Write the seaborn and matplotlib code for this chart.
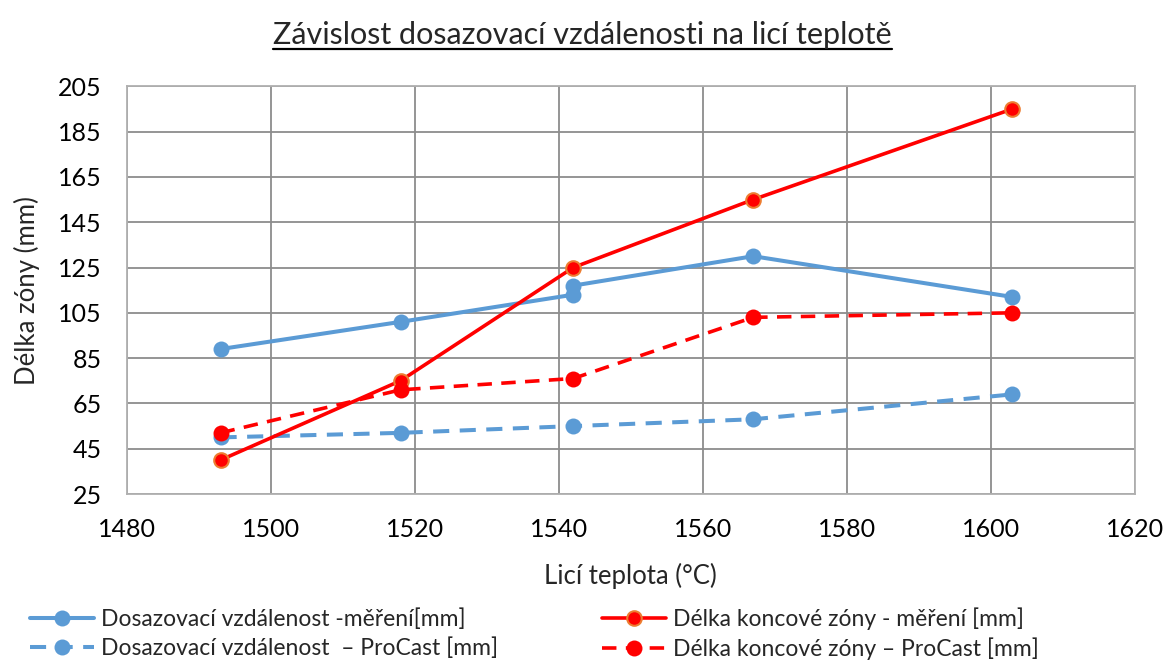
import matplotlib
matplotlib.use("Agg")
import matplotlib.pyplot as plt
from matplotlib.lines import Line2D
import seaborn as sns

# Casting temperature (°C) and measured / simulated lengths (mm)
teplota_mereni = [1493, 1518, 1542, 1542, 1567, 1603]
dosazovaci_mereni = [89, 101, 113, 117, 130, 112]

teplota = [1493, 1518, 1542, 1567, 1603]
koncova_mereni = [40, 75, 125, 155, 195]
dosazovaci_procast = [50, 52, 55, 58, 69]
koncova_procast = [52, 71, 76, 103, 105]

nazvy = [
    "Dosazovací vzdálenost -měření[mm]",
    "Dosazovací vzdálenost  – ProCast [mm]",
    "Délka koncové zóny - měření [mm]",
    "Délka koncové zóny – ProCast [mm]",
]

x_ticks = [1480, 1500, 1520, 1540, 1560, 1580, 1600, 1620]
y_ticks = [25, 45, 65, 85, 105, 125, 145, 165, 185, 205]

MODRA = "#5B9BD5"
CERVENA = "#FF0000"
ORANZOVA = "#ED7D31"

sns.set_theme(style="white")
plt.rcParams["font.family"] = ["Lato", "DejaVu Sans"]

fig = plt.figure(figsize=(11.65, 6.64), dpi=100)
ax = fig.add_axes([0.109, 0.256, 0.865, 0.614])

dash = (0, (4.0, 2.6))

sns.lineplot(x=teplota_mereni, y=dosazovaci_mereni, estimator=None, sort=False,
             ax=ax, color=MODRA, linewidth=2.9, marker="o", markersize=11.5,
             markeredgecolor=MODRA, markeredgewidth=0, label=nazvy[0])
sns.lineplot(x=teplota, y=dosazovaci_procast, estimator=None, sort=False,
             ax=ax, color=MODRA, linewidth=2.9, linestyle=dash, marker="o",
             markersize=11.5, markeredgecolor=MODRA, markeredgewidth=0,
             label=nazvy[1])
sns.lineplot(x=teplota, y=koncova_mereni, estimator=None, sort=False,
             ax=ax, color=CERVENA, linewidth=2.6, marker="o", markersize=10.5,
             markerfacecolor=CERVENA, markeredgecolor=ORANZOVA,
             markeredgewidth=1.5, label=nazvy[2])
sns.lineplot(x=teplota, y=koncova_procast, estimator=None, sort=False,
             ax=ax, color=CERVENA, linewidth=2.6, linestyle=dash, marker="o",
             markersize=11.5, markeredgecolor=CERVENA, markeredgewidth=0,
             label=nazvy[3])

ax.set_xlim(x_ticks[0], x_ticks[-1])
ax.set_ylim(y_ticks[0], y_ticks[-1])
ax.set_xticks(x_ticks)
ax.set_yticks(y_ticks)
ax.tick_params(axis="both", length=0, labelsize=18, colors="#000000")
ax.tick_params(axis="y", pad=18)
ax.tick_params(axis="x", pad=17)

ax.grid(True, color="#8C8C8C", linewidth=1.3)
ax.set_axisbelow(True)
for s in ax.spines.values():
    s.set_color("#B0B0B0")
    s.set_linewidth(1.3)

ax.set_xlabel("Licí teplota (°C)", fontsize=18.5, labelpad=16)
ax.set_ylabel("Délka zóny (mm)", fontsize=18.5, labelpad=13)

ax.get_legend().remove()
handles = ax.get_lines()[:4]
fig.legend(handles=handles, labels=nazvy, ncol=2, loc="upper left",
           bbox_to_anchor=(0.026, 0.086), frameon=False, fontsize=16.5,
           handlelength=2.8, handletextpad=0.3, columnspacing=4.5,
           labelspacing=0.36, borderpad=0, borderaxespad=0)

titulek = fig.text(0.5, 0.947, "Závislost dosazovací vzdálenosti na licí teplotě",
                   ha="center", va="center", fontsize=22)

# underline the title
fig.canvas.draw()
bb = titulek.get_window_extent().transformed(fig.transFigure.inverted())
fig.add_artist(Line2D([bb.x0, bb.x1], [bb.y0 + 0.001, bb.y0 + 0.001],
                      transform=fig.transFigure, color="black", linewidth=1.6))

fig.savefig("out.png", dpi=100)
